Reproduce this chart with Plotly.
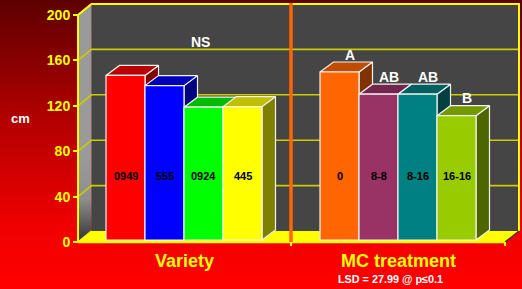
import plotly.graph_objects as go

# ---- data ----
variety_labels = ["0949", "555", "0924", "445"]
variety_values = [145, 136, 117, 117.5]
variety_colors = ["#FF0000", "#0000FF", "#00FF00", "#FFFF00"]
variety_tops = ["#BB0000", "#0000BB", "#00BB00", "#C0C000"]
variety_sides = ["#800000", "#000080", "#008000", "#808000"]

mc_labels = ["0", "8-8", "8-16", "16-16"]
mc_values = [148, 128.5, 128.5, 109.5]
mc_letters = ["A", "AB", "AB", "B"]
mc_colors = ["#FF6600", "#993366", "#008080", "#99CC00"]
mc_tops = ["#BF4C00", "#73264D", "#006060", "#739900"]
mc_sides = ["#803300", "#4D1A33", "#004040", "#4D6600"]

y_ticks = [0, 40, 80, 120, 160, 200]
group_titles = ["Variety", "MC treatment"]
variety_note = "NS"
lsd_note = "LSD = 27.99 @ p≤0.1"
y_title = "cm"

# ---- geometry (layout constants) ----
W, H = 522, 289
PX = 1.135                 # pixels per value unit
Y0 = 242                   # pixel row of value 0 on the front axis
V_TOP = Y0 / PX
V_BOT = -(H - Y0) / PX
AX_X = 78                  # front axis x
WALL_DX, WALL_DV = 13.5, 11 / PX
RIGHT_BACK = 519
FLOOR_RIGHT = 505
BAR_W = 39
BAR_DX, BAR_DV = 13.5, 10 / PX
BAR_BASE = 2 / PX
GROUP_START = [106, 320]
DIVIDER_X = 291
FONT = "Arial, Liberation Sans, sans-serif"

fig = go.Figure()


def poly(xs, vs, fill=None, line_color=None, line_width=0, gradient=None):
    kw = dict(x=list(xs) + [xs[0]], y=list(vs) + [vs[0]], mode="lines",
              fill="toself", hoverinfo="skip", showlegend=False,
              line=dict(color=line_color or "rgba(0,0,0,0)", width=line_width))
    if gradient is not None:
        kw["fillgradient"] = gradient
    else:
        kw["fillcolor"] = fill
    fig.add_trace(go.Scatter(**kw))


def seg(xs, vs, color, width):
    fig.add_trace(go.Scatter(x=xs, y=vs, mode="lines", hoverinfo="skip",
                             showlegend=False,
                             line=dict(color=color, width=width)))


# background gradient
poly([0, W, W, 0], [V_TOP, V_TOP, V_BOT, V_BOT],
     gradient=dict(type="vertical",
                   colorscale=[[0, "#FF0000"], [0.22, "#F00000"],
                               [0.6, "#B00000"], [1, "#5E0000"]]))

top_v = y_ticks[-1]
bx0 = AX_X + WALL_DX
# back wall
poly([bx0, RIGHT_BACK, RIGHT_BACK, bx0],
     [WALL_DV, WALL_DV, top_v + WALL_DV, top_v + WALL_DV], fill="#454545")
# left side wall
poly([AX_X, bx0, bx0, AX_X], [0, WALL_DV, top_v + WALL_DV, top_v],
     gradient=dict(type="vertical",
                   colorscale=[[0, "#333333"], [0.18, "#8E8E8E"],
                               [0.35, "#9A9A9A"], [1, "#9A9A9A"]]))
# floor
poly([AX_X, FLOOR_RIGHT, RIGHT_BACK, bx0], [0, 0, WALL_DV, WALL_DV],
     fill="#FFFF00")

# gridlines
gx, gv = [], []
for t in y_ticks[1:]:
    gx += [AX_X, bx0, RIGHT_BACK, None]
    gv += [t, t + WALL_DV, t + WALL_DV, None]
seg(gx, gv, "#CCCC00", 1.6)
# wall outline
seg([AX_X, AX_X, bx0, RIGHT_BACK, RIGHT_BACK],
    [0, top_v, top_v + WALL_DV, top_v + WALL_DV, WALL_DV], "#FFFF00", 2)
seg([AX_X, bx0], [0, WALL_DV], "#FFFF00", 1.5)
# floor edges
seg([AX_X, FLOOR_RIGHT], [0, 0], "#FFFF00", 2.5)
seg([FLOOR_RIGHT, RIGHT_BACK], [0, WALL_DV], "#303030", 1.2)
for tx in [DIVIDER_X, FLOOR_RIGHT]:
    seg([tx, tx], [0, -4 / PX], "#FFFF00", 2)

# divider
seg([DIVIDER_X, DIVIDER_X], [0, top_v + WALL_DV + 1], "#FF6600", 3.5)

EDGE = "#F2F2F2"


def bar3d(x0, val, front, top, side):
    x1 = x0 + BAR_W
    b = BAR_BASE
    t = BAR_BASE + val
    poly([x1, x1 + BAR_DX, x1 + BAR_DX, x1], [b, b + BAR_DV, t + BAR_DV, t],
         fill=side, line_color=EDGE, line_width=1.2)
    poly([x0, x0 + BAR_DX, x1 + BAR_DX, x1], [t, t + BAR_DV, t + BAR_DV, t],
         fill=top, line_color=EDGE, line_width=1.2)
    poly([x0, x1, x1, x0], [b, b, t, t],
         fill=front, line_color=EDGE, line_width=1.2)


annotations = []
groups = [
    (variety_labels, variety_values, variety_colors, variety_tops, variety_sides),
    (mc_labels, mc_values, mc_colors, mc_tops, mc_sides),
]
for gi, (labs, vals, cols, tops, sides) in enumerate(groups):
    for i, (lab, val) in enumerate(zip(labs, vals)):
        x0 = GROUP_START[gi] + i * BAR_W
        bar3d(x0, val, cols[i], tops[i], sides[i])
        annotations.append(dict(x=x0 + BAR_W / 2, y=58, text=f"<b>{lab}</b>",
                                showarrow=False,
                                font=dict(family=FONT, size=11, color="#000000")))
    gc = GROUP_START[gi] + 2 * BAR_W
    annotations.append(dict(x=gc, y=-16.5, text=f"<b>{group_titles[gi]}</b>",
                            showarrow=False,
                            font=dict(family=FONT, size=18, color="#FFFF00")))

for i, (val, letter) in enumerate(zip(mc_values, mc_letters)):
    x0 = GROUP_START[1] + i * BAR_W
    annotations.append(dict(x=x0 + BAR_W / 2 + 10, y=val + 17,
                            text=f"<b>{letter}</b>", showarrow=False,
                            font=dict(family=FONT, size=14, color="#FFFFFF")))

annotations.append(dict(x=GROUP_START[0] + 2 * BAR_W + 16, y=176,
                        text=f"<b>{variety_note}</b>", showarrow=False,
                        font=dict(family=FONT, size=14, color="#FFFFFF")))
annotations.append(dict(x=GROUP_START[1] + 2 * BAR_W - 7.5, y=-32.5,
                        text=f"<b>{lsd_note}</b>", showarrow=False,
                        font=dict(family=FONT, size=10.8, color="#FFFFFF")))
annotations.append(dict(x=20, y=109, text=f"<b>{y_title}</b>", showarrow=False,
                        font=dict(family=FONT, size=13, color="#FFFFFF")))

fig.update_layout(
    width=W, height=H, autosize=False,
    margin=dict(l=0, r=0, t=0, b=0),
    paper_bgcolor="#CC0000", plot_bgcolor="rgba(0,0,0,0)",
    showlegend=False,
    annotations=annotations,
    xaxis=dict(visible=False, range=[0, W], fixedrange=True),
    yaxis=dict(range=[V_BOT, V_TOP], anchor="free", position=AX_X / W,
               tickvals=y_ticks, ticktext=[str(t) for t in y_ticks],
               ticks="outside", ticklen=5, tickwidth=2, tickcolor="#FFFF00",
               tickfont=dict(family=FONT, size=14, color="#FFFF00",
                             weight="bold"),
               showgrid=False, zeroline=False, showline=False,
               fixedrange=True),
)

fig.write_html(
    "out.html",
    config={"displayModeBar": False},
    post_script="document.body.style.margin='0';"
                "document.body.style.overflow='hidden';",
)
